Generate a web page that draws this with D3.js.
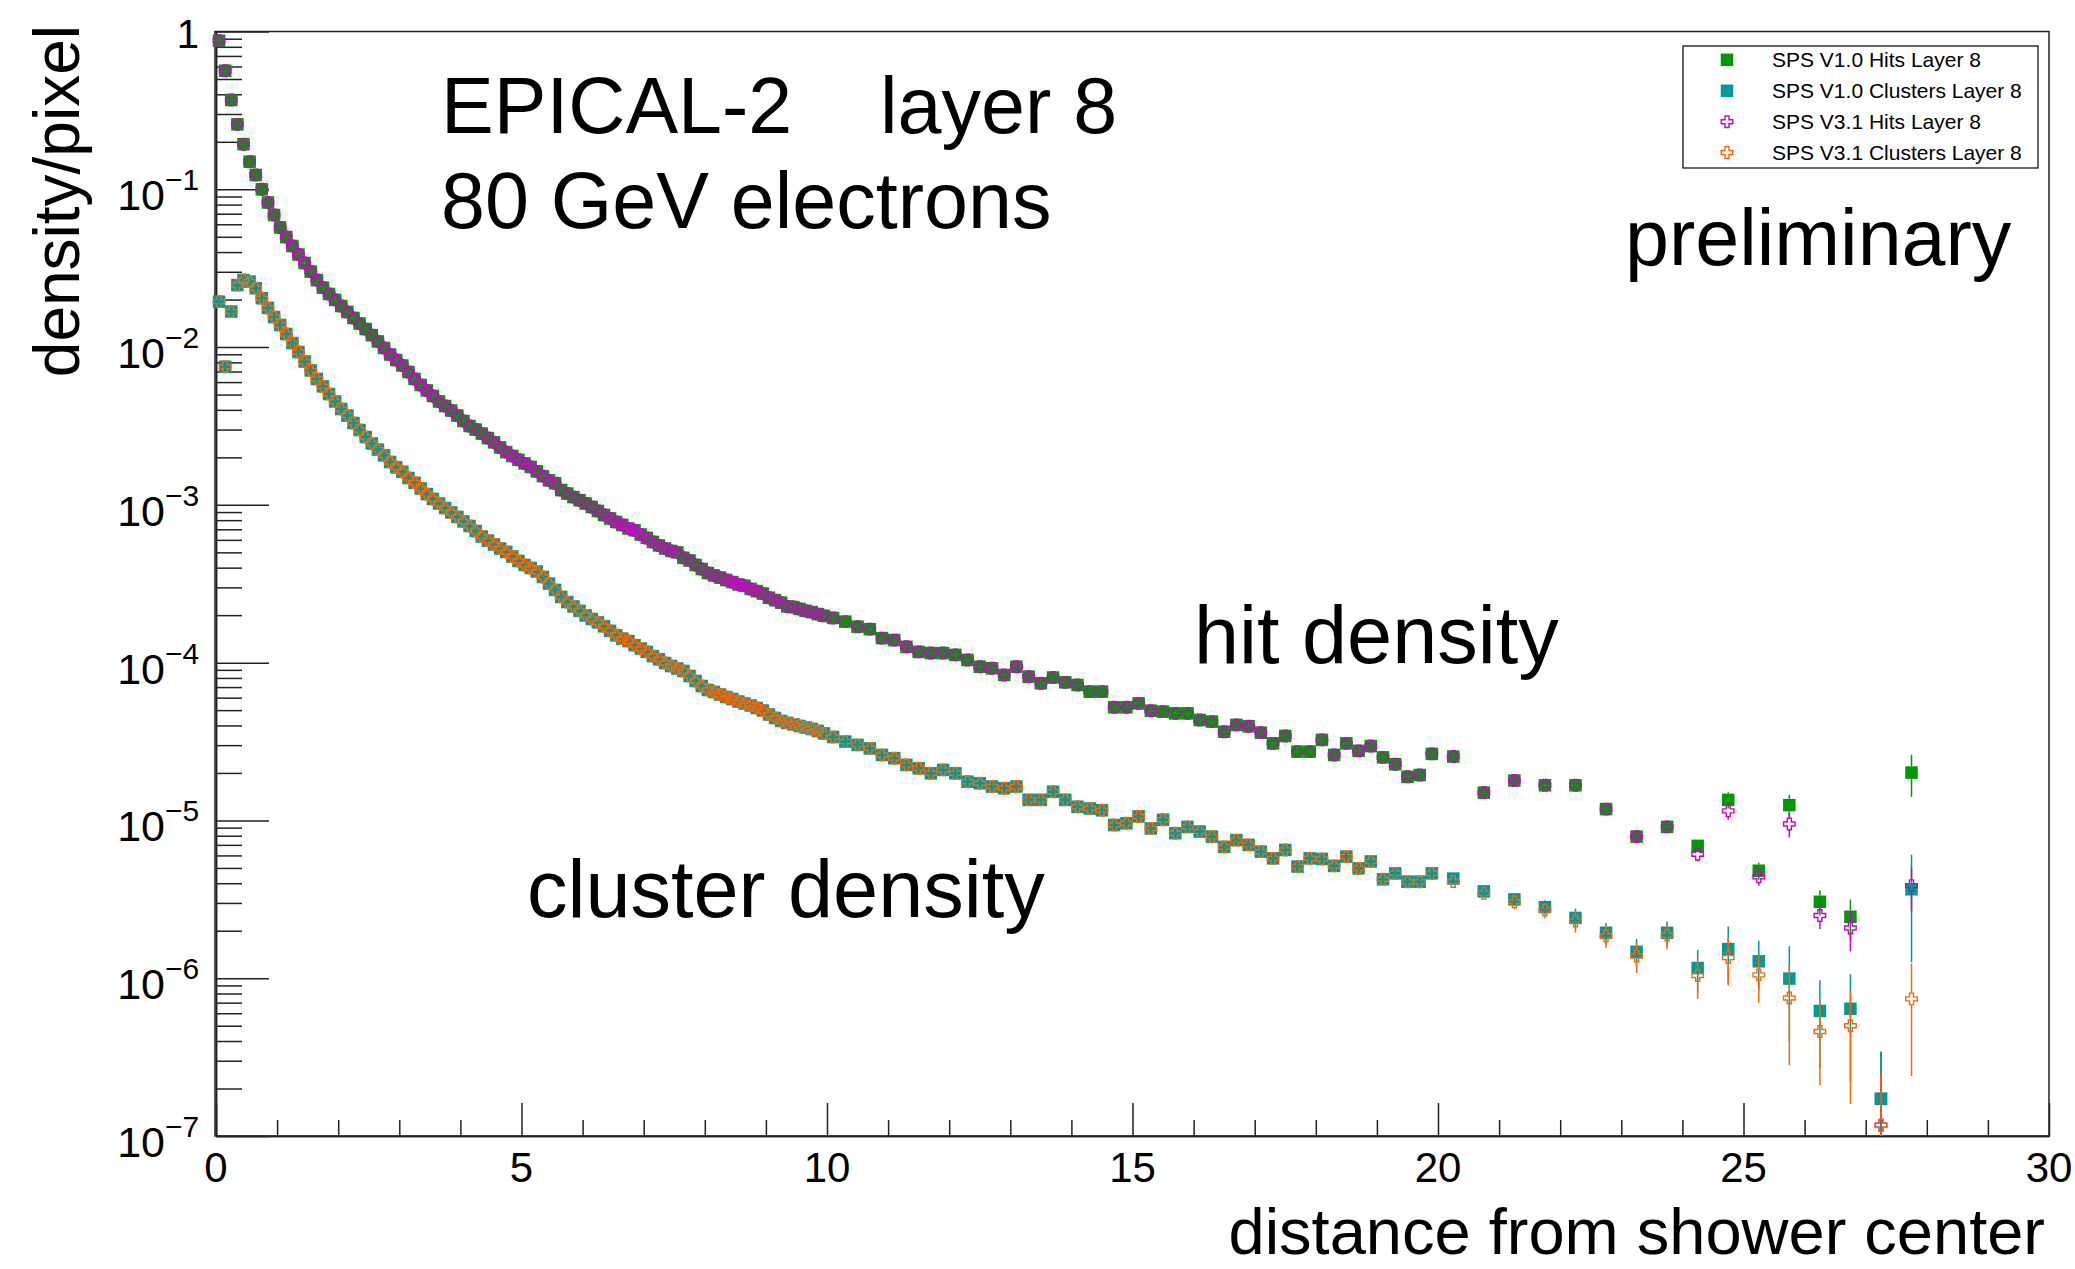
<!DOCTYPE html>
<html><head><meta charset="utf-8">
<script src="https://cdn.jsdelivr.net/npm/d3@7"></script>
<style>
html,body{margin:0;padding:0;background:#fff;}
svg{display:block;}
text{font-family:"Liberation Sans", Arial, Helvetica, sans-serif; fill:#000;}
</style></head><body>
<svg id="chart" width="2075" height="1269"></svg>
<script>
// ---------------- DATA ----------------
// bin centres (distance from shower center)
const xBins = [
 0.05,0.15,0.25,0.35,0.45,0.55,0.65,0.75,0.85,0.95,
 1.05,1.15,1.25,1.35,1.45,1.55,1.65,1.75,1.85,1.95,
 2.05,2.15,2.25,2.35,2.45,2.55,2.65,2.75,2.85,2.95,
 3.05,3.15,3.25,3.35,3.45,3.55,3.65,3.75,3.85,3.95,
 4.05,4.15,4.25,4.35,4.45,4.55,4.65,4.75,4.85,4.95,
 5.05,5.15,5.25,5.35,5.45,5.55,5.65,5.75,5.85,5.95,
 6.05,6.15,6.25,6.35,6.45,6.55,6.65,6.75,6.85,6.95,
 7.05,7.15,7.25,7.35,7.45,7.55,7.65,7.75,7.85,7.95,
 8.05,8.15,8.25,8.35,8.45,8.55,8.65,8.75,8.85,8.95,
 9.05,9.15,9.25,9.35,9.45,9.55,9.65,9.75,9.85,9.95,
 10.1,10.3,10.5,10.7,10.9,11.1,11.3,11.5,11.7,11.9,
 12.1,12.3,12.5,12.7,12.9,13.1,13.3,13.5,13.7,13.9,
 14.1,14.3,14.5,14.7,14.9,15.1,15.3,15.5,15.7,15.9,
 16.1,16.3,16.5,16.7,16.9,17.1,17.3,17.5,17.7,17.9,
 18.1,18.3,18.5,18.7,18.9,19.1,19.3,19.5,19.7,19.9,
 20.25,20.75,21.25,21.75,22.25,22.75,23.25,23.75,
 24.25,24.75,25.25,25.75,26.25,26.75,27.25,27.75
];

// hit density, common to V1.0 and V3.1 up to x = 20
const hitsCore = [
 0.874,0.564,0.368,0.258,0.193,0.1496,0.1232,0.1000,0.0825,0.0687,
 0.0573,0.0498,0.0437,0.0386,0.0341,0.0301,0.0266,0.0238,0.0217,0.0199,
 0.0182,0.0167,0.0153,0.0141,0.0130,0.0119,0.01085,0.00987,0.00897,0.00828,
 0.00764,0.00695,0.00628,0.00575,0.00531,0.00490,0.00452,0.00423,0.00396,0.00368,
 0.00340,0.00316,0.00300,0.00283,0.00265,0.00249,0.00231,0.00216,0.00204,0.00193,
 0.00183,0.00174,0.00163,0.00152,0.00143,0.00137,0.00124,0.00118,0.00112,0.00107,
 0.00102,0.000969,0.000915,0.000863,0.000820,0.000779,0.000746,0.000709,0.000690,0.000649,
 0.000617,0.000582,0.000553,0.000529,0.000510,0.000500,0.000462,0.000444,0.000416,0.000392,
 0.000370,0.000357,0.000346,0.000334,0.000324,0.000313,0.000307,0.000293,0.000284,0.000274,
 0.000258,0.000249,0.000240,0.000227,0.000225,0.000219,0.000213,0.000209,0.000203,0.000198,
 0.000192,0.000182,0.000169,0.000163,0.000143,0.000139,0.000126,0.000117,0.000115,0.000115,
 0.000112,0.000104,0.0000942,0.0000921,0.0000835,0.0000942,0.0000815,0.0000740,0.0000805,0.0000750,
 0.0000722,0.0000655,0.0000655,0.0000521,0.0000521,0.0000552,0.0000496,0.0000489,0.0000477,0.0000477,
 0.0000433,0.0000423,0.0000365,0.0000403,0.0000395,0.0000360,0.0000308,0.0000343,0.0000273,0.0000273,
 0.0000324,0.0000260,0.0000308,0.0000276,0.0000296,0.0000251,0.0000227,0.0000189,0.0000194,0.0000264
];

// cluster density, common to V1.0 and V3.1 up to x = 20
const clustersCore = [
 0.0194,0.00751,0.0168,0.0247,0.0266,0.0260,0.0236,0.0204,0.0177,0.0155,
 0.0138,0.0121,0.0106,0.00930,0.00810,0.00711,0.00628,0.00563,0.00504,0.00452,
 0.00405,0.00368,0.00330,0.00298,0.00269,0.00245,0.00224,0.00206,0.00187,0.00173,
 0.00162,0.00148,0.00138,0.00127,0.00117,0.00109,0.00102,0.000955,0.000895,0.000838,
 0.000785,0.000735,0.000683,0.000630,0.000594,0.000561,0.000529,0.000503,0.000471,0.000441,
 0.000416,0.000398,0.000378,0.000349,0.000317,0.000289,0.000261,0.000242,0.000227,0.000213,
 0.000199,0.000189,0.000180,0.000170,0.000159,0.000149,0.000142,0.000137,0.000129,0.000123,
 0.000117,0.000110,0.000105,0.0000995,0.0000952,0.0000918,0.0000885,0.0000823,0.0000765,0.0000711,
 0.0000671,0.0000652,0.0000628,0.0000606,0.0000588,0.0000567,0.0000551,0.0000535,0.0000516,0.0000497,
 0.0000469,0.0000446,0.0000427,0.0000415,0.0000406,0.0000397,0.0000388,0.0000380,0.0000369,0.0000356,
 3.38e-5,3.16e-5,3.01e-5,2.86e-5,2.60e-5,2.48e-5,2.25e-5,2.14e-5,1.99e-5,2.09e-5,
 1.99e-5,1.76e-5,1.72e-5,1.64e-5,1.60e-5,1.64e-5,1.35e-5,1.35e-5,1.52e-5,1.35e-5,
 1.22e-5,1.19e-5,1.16e-5,9.35e-6,9.6e-6,1.06e-5,8.9e-6,1.01e-5,8.3e-6,9.1e-6,
 8.5e-6,7.9e-6,6.8e-6,7.5e-6,7.0e-6,6.34e-6,5.75e-6,6.5e-6,5.1e-6,5.75e-6,
 5.7e-6,5.15e-6,5.9e-6,4.97e-6,5.5e-6,4.24e-6,4.62e-6,4.09e-6,4.09e-6,4.62e-6
];

// tail bins (x = 20.25 ... 27.75): values and errors per series
const hitsV10Tail = [2.54e-5,1.50e-5,1.79e-5,1.67e-5,1.67e-5,1.18e-5,7.9e-6,9.1e-6,6.9e-6,1.35e-5,4.8e-6,1.25e-5,3.05e-6,2.45e-6,1.72e-7,2.01e-5];
const hitsV31Tail = [2.54e-5,1.50e-5,1.79e-5,1.67e-5,1.67e-5,1.18e-5,7.9e-6,9.1e-6,6.1e-6,1.15e-5,4.4e-6,9.5e-6,2.5e-6,2.08e-6,1.17e-7,3.86e-6];
const clustersV10Tail = [4.28e-6,3.55e-6,3.16e-6,2.82e-6,2.41e-6,1.94e-6,1.47e-6,1.94e-6,1.16e-6,1.53e-6,1.28e-6,9.95e-7,6.2e-7,6.4e-7,1.72e-7,3.66e-6];
const clustersV31Tail = [4.1e-6,3.45e-6,3.05e-6,2.7e-6,2.3e-6,1.85e-6,1.38e-6,1.87e-6,1.04e-6,1.35e-6,1.05e-6,7.5e-7,4.6e-7,5.0e-7,1.17e-7,7.4e-7];

const hitsV10Err = [1.0e-6,0.8e-6,0.9e-6,0.9e-6,0.9e-6,0.8e-6,0.6e-6,0.7e-6,0.6e-6,1.6e-6,0.6e-6,2.0e-6,0.55e-6,0.7e-6,1.7e-7,6.0e-6];
const hitsV31Err = [1.0e-6,0.8e-6,0.9e-6,0.9e-6,0.9e-6,0.8e-6,0.6e-6,0.7e-6,0.6e-6,1.4e-6,0.55e-6,1.7e-6,0.45e-6,0.6e-6,1.3e-7,1.2e-6];
const clustersV10Err = [0.3e-6,0.3e-6,0.3e-6,0.3e-6,0.35e-6,0.3e-6,0.3e-6,0.35e-6,0.35e-6,0.6e-6,0.45e-6,0.6e-6,0.35e-6,0.42e-6,1.7e-7,2.4e-6];
const clustersV31Err = [0.3e-6,0.3e-6,0.3e-6,0.3e-6,0.35e-6,0.3e-6,0.3e-6,0.35e-6,0.3e-6,0.45e-6,0.35e-6,0.47e-6,0.25e-6,0.34e-6,1.3e-7,0.5e-6];

const xTickValues = [0,5,10,15,20,25,30];
const yTickExponents = [0,-1,-2,-3,-4,-5,-6,-7];
const seriesNames = ["SPS V1.0 Hits Layer 8","SPS V1.0 Clusters Layer 8","SPS V3.1 Hits Layer 8","SPS V3.1 Clusters Layer 8"];
const seriesColors = ["#009900","#009999","#cc00cc","#ff6600"];
const seriesMarkers = ["square","square","opencross","opencross"];

// ---------------- BUILD ----------------
const series = [
  {vals: hitsCore.concat(hitsV10Tail), err: hitsV10Err},
  {vals: clustersCore.concat(clustersV10Tail), err: clustersV10Err},
  {vals: hitsCore.concat(hitsV31Tail), err: hitsV31Err},
  {vals: clustersCore.concat(clustersV31Tail), err: clustersV31Err}
].map((s,i)=>({...s, name:seriesNames[i], color:seriesColors[i], marker:seriesMarkers[i]}));
const nCore = hitsCore.length;

const svg = d3.select("#chart");
const W = 2075, H = 1269;
const L = 216, R = 2049, T = 31.5, B = 1136;
const x = d3.scaleLinear().domain([0,30]).range([L,R]);
const y = d3.scaleLog().domain([1e-7,1]).range([B,T]);

svg.append("rect").attr("width",W).attr("height",H).attr("fill","#fff");

const axColor = "#222";
// y axis major / minor ticks (inside)
const yMajor = yTickExponents.map(e=>Math.pow(10,e));
const yMinor = [];
for (let e=-7; e<0; e++) for (let k=2;k<=9;k++) yMinor.push(k*Math.pow(10,e));
const gyMin = svg.append("g").attr("transform",`translate(${L},0)`)
  .call(d3.axisLeft(y).tickValues(yMinor).tickSize(-26).tickSizeOuter(0).tickFormat(""));
const gyMaj = svg.append("g").attr("transform",`translate(${L},0)`)
  .call(d3.axisLeft(y).tickValues(yMajor).tickSize(-53).tickSizeOuter(0).tickFormat(""));
// x axis
const xMinor = d3.range(1,30).filter(v=>v%5!==0);
const gxMin = svg.append("g").attr("transform",`translate(0,${B})`)
  .call(d3.axisBottom(x).tickValues(xMinor).tickSize(-16).tickSizeOuter(0).tickFormat(""));
const gxMaj = svg.append("g").attr("transform",`translate(0,${B})`)
  .call(d3.axisBottom(x).tickValues(xTickValues).tickSize(-33).tickSizeOuter(0).tickFormat(""));
[gyMin,gyMaj,gxMin,gxMaj].forEach(g=>{
  g.selectAll("line").attr("stroke",axColor).attr("stroke-width",1.5);
  g.select(".domain").attr("stroke",axColor).attr("stroke-width",1.5);
});
// frame
svg.append("rect").attr("x",L-1).attr("y",T).attr("width",R-L+1).attr("height",B-T)
  .attr("fill","none").attr("stroke",axColor).attr("stroke-width",1.5);

// x tick labels
svg.append("g").selectAll("text").data(xTickValues).join("text")
  .attr("x",d=>x(d)).attr("y",1182).attr("text-anchor","middle")
  .attr("font-size",42).text(d=>String(d));
// y tick labels
const yl = svg.append("g");
yTickExponents.forEach(e=>{
  const ty = y(Math.pow(10,e));
  if (e===0) {
    yl.append("text").attr("x",199).attr("y",ty+16).attr("text-anchor","end").attr("font-size",40).text("1");
  } else {
    yl.append("text").attr("x",165).attr("y",ty+21).attr("text-anchor","end").attr("font-size",43).text("10");
    yl.append("text").attr("x",165).attr("y",ty+1).attr("text-anchor","start").attr("font-size",30).text("\u2212"+(-e));
  }
});

// axis titles
svg.append("text").attr("transform","translate(79,25) rotate(-90)").attr("text-anchor","end")
  .attr("font-size",64).text("density/pixel");
svg.append("text").attr("x",2045).attr("y",1254).attr("text-anchor","end")
  .attr("font-size",65).text("distance from shower center");

// annotations
svg.append("text").attr("x",441).attr("y",133).attr("font-size",79).text("EPICAL-2");
svg.append("text").attr("x",880).attr("y",133).attr("font-size",79).text("layer 8");
svg.append("text").attr("x",441).attr("y",228).attr("font-size",79).text("80 GeV electrons");
svg.append("text").attr("x",1625).attr("y",265).attr("font-size",79).text("preliminary");
svg.append("text").attr("x",1194).attr("y",663).attr("font-size",81).text("hit density");
svg.append("text").attr("x",527).attr("y",917).attr("font-size",81).text("cluster density");

// markers
const SQ = 12.5, CR = 11.5, ARM = 2.0;
const crossPath = (()=>{const h=CR/2,a=ARM;
  return `M${-a},${-h}L${a},${-h}L${a},${-a}L${h},${-a}L${h},${a}L${a},${a}L${a},${h}L${-a},${h}L${-a},${a}L${-h},${a}L${-h},${-a}L${-a},${-a}Z`;})();
function drawMarker(g, type, color, cx, cy){
  if (type==="square") {
    g.append("rect").attr("x",cx-SQ/2).attr("y",cy-SQ/2).attr("width",SQ).attr("height",SQ).attr("fill",color);
  } else {
    g.append("path").attr("d",crossPath).attr("transform",`translate(${cx},${cy})`)
      .attr("fill","none").attr("stroke",color).attr("stroke-width",1.4);
  }
}

const plot = svg.append("g");
series.forEach(s=>{
  const g = plot.append("g");
  // error bars (tail bins)
  s.vals.forEach((v,i)=>{
    if (i < nCore) return;
    const e = s.err[i-nCore];
    const cx = x(xBins[i]), cy = y(v);
    const yTop = y(v+e);
    const yBot = (v-e) > 1e-7 ? y(v-e) : B;
    const half = s.marker==="square" ? SQ/2 : CR/2;
    if (cy-half > yTop) g.append("line").attr("x1",cx).attr("x2",cx).attr("y1",yTop).attr("y2",cy-half)
      .attr("stroke",s.color).attr("stroke-width",1.5);
    if (yBot > cy+half) g.append("line").attr("x1",cx).attr("x2",cx).attr("y1",cy+half).attr("y2",Math.min(yBot,B))
      .attr("stroke",s.color).attr("stroke-width",1.5);
  });
  s.vals.forEach((v,i)=>{ drawMarker(g, s.marker, s.color, x(xBins[i]), y(v)); });
});

// legend
const lg = svg.append("g");
lg.append("rect").attr("x",1683).attr("y",46).attr("width",355).attr("height",122)
  .attr("fill","#fff").attr("stroke","#000").attr("stroke-width",1.2);
const rowBase = [67.3, 98.3, 129.3, 160];
series.forEach((s,i)=>{
  drawMarker(lg, s.marker, s.color, 1727, rowBase[i]-7.5);
  lg.append("text").attr("x",1772).attr("y",rowBase[i]).attr("font-size",21).text(s.name);
});
</script>
</body></html>
